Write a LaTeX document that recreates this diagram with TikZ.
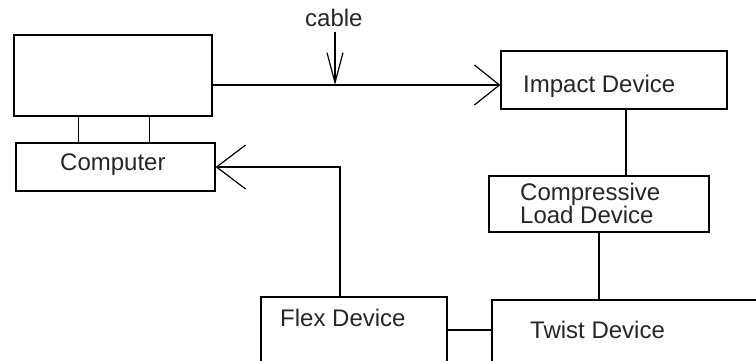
\documentclass[tikz,border=0pt]{standalone}
\usepackage{fontspec}
\setmainfont{Liberation Sans}
\usetikzlibrary{arrows.meta}
\begin{document}
\begin{tikzpicture}[x=1pt,y=-1pt,
  box/.style={draw,line width=1.2pt,rectangle,inner sep=0pt},
  lbl/.style={inner sep=0pt,anchor=base west,font=\fontsize{24}{23}\selectfont,text=black!85,align=left},
  wire/.style={line width=1.2pt},
  barbA/.style={wire,-{Straight Barb[length=25pt,width=40pt]}},
  barbB/.style={wire,-{Straight Barb[length=29pt,width=44pt]}},
  barbC/.style={wire,-{Straight Barb[length=30pt,width=16pt]}}]
\useasboundingbox (0,0) rectangle (756,360);
\clip (0,0) rectangle (756,360);
% boxes
\node[box,minimum width=198pt,minimum height=81pt] (monitor) at (113,75.5) {};
\node[box,minimum width=199pt,minimum height=48pt] (computer) at (115.5,167) {};
\node[box,minimum width=226pt,minimum height=58pt] (impact) at (614,80) {};
\node[box,minimum width=220pt,minimum height=56pt] (comp) at (599,204) {};
\node[box,minimum width=186pt,minimum height=103pt] (flex) at (354,348.5) {};
\node[box,minimum width=308pt,minimum height=100pt] (twist) at (646,350) {};
% texts
\node[lbl] (tcomputer) at (60,170) {Computer};
\node[lbl] (timpact) at (523,92) {Impact Device};
\node[lbl] (tcomp) at (520,223) {Compressive\\Load Device};
\node[lbl] (tflex) at (280,326) {Flex Device};
\node[lbl] (ttwist) at (530,338) {Twist Device};
\node[lbl] (cable) at (305,26) {cable};
% connectors
\coordinate (cj) at (335,85);
\coordinate (fj) at (0,330);
\draw[wire] ([xshift=65pt]monitor.south west) -- ([xshift=65pt]monitor.south west |- computer.north);
\draw[wire] ([xshift=136pt]monitor.south west) -- ([xshift=136pt]monitor.south west |- computer.north);
\draw[barbA] (monitor.east |- cj) -- (impact.west |- cj);
\draw[barbC] ([yshift=-6pt]cable.base -| cj) -- (cj);
\draw[wire] ([xshift=12pt]impact.south) -- ([xshift=12pt]impact.south |- comp.north);
\draw[wire] (comp.south) -- (comp.south |- twist.north);
\draw[wire] (flex.east |- fj) -- (twist.west |- fj);
\draw[barbB] ([xshift=-14pt]flex.north) |- (computer.east);
\end{tikzpicture}
\end{document}
